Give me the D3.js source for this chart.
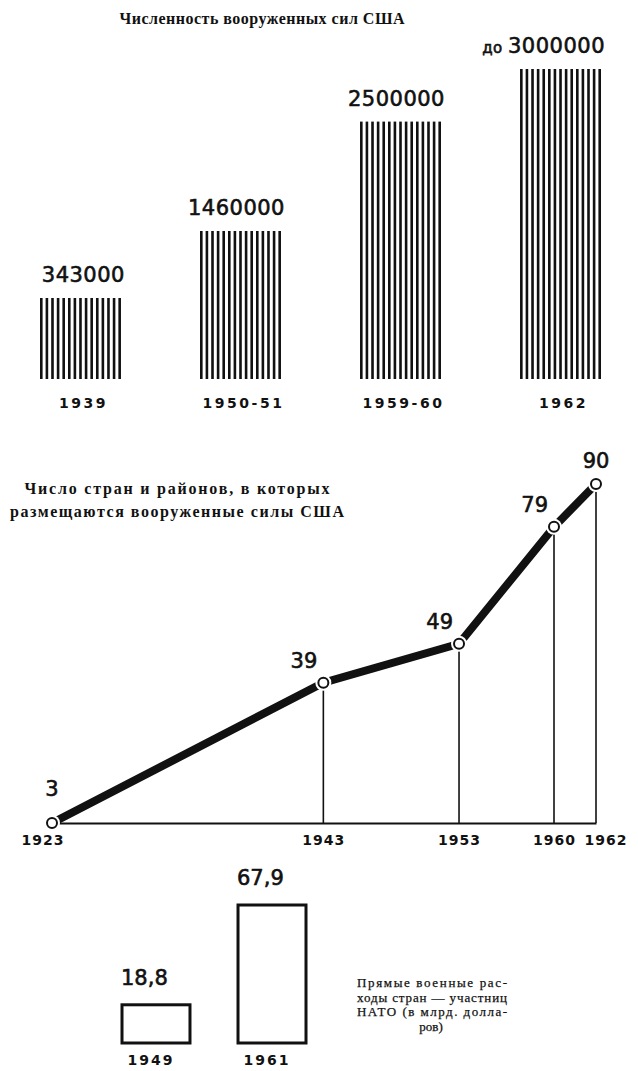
<!DOCTYPE html>
<html>
<head>
<meta charset="utf-8">
<script src="https://cdn.jsdelivr.net/npm/d3@7"></script>
<style>
  body { margin: 0; background: #fff; }
  svg { display: block; }
  .num  { font-family: "DejaVu Sans", sans-serif; font-size: 21px; fill: #111; stroke: #111; stroke-width: 0.6px; }
  .pre  { font-size: 15px; }
  .yr   { font-family: "DejaVu Sans", sans-serif; font-weight: bold; font-size: 14px; fill: #111; }
  .cap  { font-family: "Liberation Serif", serif; font-weight: bold; font-size: 16px; fill: #111; }
  .note { font-family: "Liberation Serif", serif; font-size: 13px; fill: #111; stroke: #111; stroke-width: 0.25px; }
</style>
</head>
<body>
<svg id="chart" width="638" height="1071"></svg>
<script>
// --- data ---
const forceYears  = ['1939', '1950-51', '1959-60', '1962'];
const forceValues = [343000, 1460000, 2500000, 3000000];
const forcePrefix = ['', '', '', 'до '];

const baseYears  = [1923, 1943, 1953, 1960, 1962];
const baseCounts = [3, 39, 49, 79, 90];

const natoYears = ['1949', '1961'];
const natoSpend = [18.8, 67.9];

const noteLines = ['Прямые военные рас-', 'ходы стран — участниц', 'НАТО (в млрд. долла-', 'ров)'];

const svg = d3.select('#chart');

// === 1. armed forces strength (hatched bars) ===
svg.append('text').attr('class', 'cap')
  .attr('x', 262).attr('y', 24).attr('text-anchor', 'middle')
  .attr('textLength', 285).attr('lengthAdjust', 'spacing')
  .text('Численность вооруженных сил США');

const xTop = d3.scaleBand().domain(forceYears).range([40, 601]).paddingInner(0.494);
// the original squeezes the scale: first bar is drawn taller than linear
const hTop = d3.scaleLinear().domain([0, 343000, 1460000, 3000000]).range([0, 81, 148, 310]);
const topBase = 379;
const stripeW = 2.6, stripeStep = 5.8;

const forces = forceYears.map((y, i) => ({ year: y, value: forceValues[i], pre: forcePrefix[i] }));

const gTop = svg.append('g');
forces.forEach(d => {
  const x0 = xTop(d.year), bw = xTop.bandwidth(), h = hTop(d.value);
  const n = Math.round(bw / stripeStep) + 1;
  gTop.append('g').selectAll('rect')
    .data(d3.range(n))
    .join('rect')
    .attr('x', i => x0 + i * (bw - stripeW) / (n - 1))
    .attr('y', topBase - h)
    .attr('width', stripeW)
    .attr('height', h)
    .attr('fill', '#111');
});

const topLbl = gTop.selectAll('text.num')
  .data(forces)
  .join('text')
  .attr('class', 'num')
  .attr('text-anchor', 'end')
  .attr('letter-spacing', 0.5)
  .attr('x', d => xTop(d.year) + xTop.bandwidth() + 4)
  .attr('y', d => topBase - hTop(d.value) - 16);
topLbl.append('tspan').attr('class', 'pre').text(d => d.pre);
topLbl.append('tspan').text(d => d.value);

gTop.selectAll('text.yr')
  .data(forces)
  .join('text')
  .attr('class', 'yr')
  .attr('text-anchor', 'middle')
  .attr('letter-spacing', 2.5)
  .attr('x', d => xTop(d.year) + xTop.bandwidth() / 2 + 3)
  .attr('y', 408)
  .text(d => d.year);

// === 2. number of countries with US forces (line) ===
const capLines = ['Число стран и районов, в которых', 'размещаются вооруженные силы США'];
svg.append('g').selectAll('text')
  .data(capLines)
  .join('text')
  .attr('class', 'cap')
  .attr('x', 177).attr('y', (d, i) => 494 + i * 23)
  .attr('text-anchor', 'middle')
  .attr('textLength', (d, i) => i ? 334 : 305)
  .attr('lengthAdjust', 'spacing')
  .text(d => d);

const xLine = d3.scaleLinear().domain([1923, 1960, 1962]).range([52, 554, 596]);
const yLine = d3.scaleLinear().domain([3, 90]).range([823, 484]);
const pts = baseYears.map((y, i) => ({ year: y, count: baseCounts[i] }));
const gLine = svg.append('g');

const axis = d3.axisBottom(xLine)
  .tickValues(baseYears)
  .tickSize(0)
  .tickSizeOuter(0)
  .tickPadding(12)
  .tickFormat(d3.format('d'));
const gAxis = gLine.append('g')
  .attr('transform', `translate(0,${yLine(3)})`)
  .call(axis);
gAxis.select('.domain').attr('stroke', '#111').attr('stroke-width', 2);
gAxis.selectAll('text')
  .attr('class', 'yr')
  .attr('font-family', null).attr('font-size', null)
  .attr('letter-spacing', 1)
  .attr('text-anchor', (d, i) => i === 0 ? 'end' : i === baseYears.length - 1 ? 'start' : 'middle')
  .attr('dx', (d, i) => i === 0 ? 12 : i === baseYears.length - 1 ? -12 : 0);

gLine.selectAll('line.drop')
  .data(pts.slice(1))
  .join('line')
  .attr('class', 'drop')
  .attr('x1', d => xLine(d.year)).attr('x2', d => xLine(d.year))
  .attr('y1', d => yLine(d.count)).attr('y2', yLine(3))
  .attr('stroke', '#111').attr('stroke-width', 1.6);

gLine.append('path')
  .datum(pts)
  .attr('fill', 'none')
  .attr('stroke', '#111')
  .attr('stroke-width', 8)
  .attr('d', d3.line().x(d => xLine(d.year)).y(d => yLine(d.count)));

gLine.selectAll('circle.halo')
  .data(pts)
  .join('circle')
  .attr('class', 'halo')
  .attr('cx', d => xLine(d.year)).attr('cy', d => yLine(d.count))
  .attr('r', 8).attr('fill', '#fff');
gLine.selectAll('circle.dot')
  .data(pts)
  .join('circle')
  .attr('class', 'dot')
  .attr('cx', d => xLine(d.year)).attr('cy', d => yLine(d.count))
  .attr('r', 5).attr('fill', '#fff')
  .attr('stroke', '#111').attr('stroke-width', 2);

const last = pts.length - 1;
gLine.selectAll('text.num')
  .data(pts)
  .join('text')
  .attr('class', 'num')
  .attr('text-anchor', (d, i) => (i === 0 || i === last) ? 'middle' : 'end')
  .attr('x', (d, i) => xLine(d.year) + ((i === 0 || i === last) ? 0 : -6))
  .attr('y', (d, i) => yLine(d.count) - (i === 0 ? 27 : i === last ? 16 : 15))
  .text(d => d.count);

// === 3. NATO direct military spending (outlined bars) ===
const xNato = d3.scaleBand().domain(natoYears).range([122, 306]).paddingInner(0.414);
const hNato = d3.scaleLinear().domain([0, 67.9]).range([0, 138]);
const natoBase = 1043;
const nato = natoYears.map((y, i) => ({ year: y, value: natoSpend[i] }));
const fmt = v => d3.format('.1f')(v).replace('.', ',');

const gNato = svg.append('g');
gNato.selectAll('rect')
  .data(nato)
  .join('rect')
  .attr('x', d => xNato(d.year))
  .attr('y', d => natoBase - hNato(d.value))
  .attr('width', xNato.bandwidth())
  .attr('height', d => hNato(d.value))
  .attr('fill', 'none')
  .attr('stroke', '#111')
  .attr('stroke-width', 3);

gNato.selectAll('text.num')
  .data(nato)
  .join('text')
  .attr('class', 'num')
  .attr('x', d => xNato(d.year) - 1)
  .attr('y', d => natoBase - hNato(d.value) - 20)
  .text(d => fmt(d.value));

gNato.selectAll('text.yr')
  .data(nato)
  .join('text')
  .attr('class', 'yr')
  .attr('letter-spacing', 2)
  .attr('text-anchor', 'middle')
  .attr('x', d => xNato(d.year) + xNato.bandwidth() / 2 - 5)
  .attr('y', 1065)
  .text(d => d.year);

gNato.selectAll('text.note')
  .data(noteLines)
  .join('text')
  .attr('class', 'note')
  .attr('x', (d, i) => i === noteLines.length - 1 ? 431 : 357)
  .attr('y', (d, i) => 987 + i * 14.5)
  .attr('text-anchor', (d, i) => i === noteLines.length - 1 ? 'middle' : 'start')
  .each(function (d, i) {
    if (i < noteLines.length - 1) {
      d3.select(this).attr('textLength', 150).attr('lengthAdjust', 'spacing');
    }
  })
  .text(d => d);
</script>
</body>
</html>
